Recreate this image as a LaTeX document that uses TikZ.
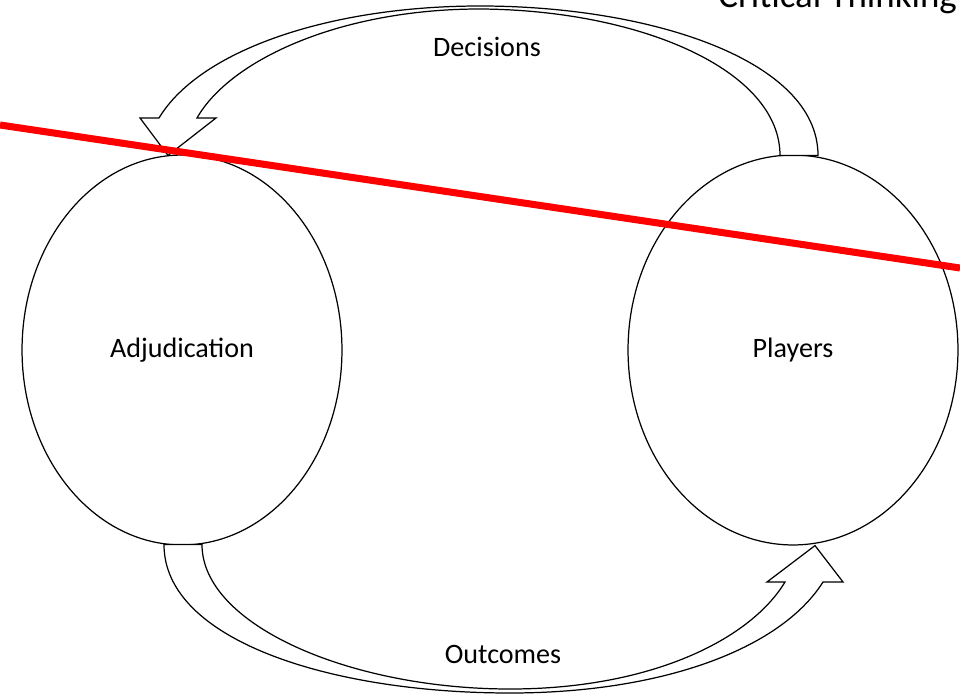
\documentclass[tikz,border=0pt]{standalone}
\usepackage{fontspec}
\setmainfont{Carlito}
\usetikzlibrary{shapes.geometric,calc}
\begin{document}
\begin{tikzpicture}[x=0.02cm,y=-0.02cm,
    stage/.style={draw,ellipse,line width=0.7pt,minimum width=6.4cm,
      minimum height=7.8cm,inner sep=0pt,font=\fontsize{16}{19}\selectfont},
    bigarrow/.style={draw,fill=white,line width=0.7pt,line join=miter},
    flow/.style={font=\fontsize{16}{19}\selectfont},
    strike/.style={draw=red,line width=4pt}]
\useasboundingbox (0,0) rectangle (960,699);

\node[stage] (adj) at (182,350) {Adjudication};
\node[stage,minimum width=6.6cm] (pla) at (793,350) {Players};

% decisions go back to adjudication
\draw[bigarrow] ($(pla.north)+(25,1)$) .. controls (818,60) and (650,6) .. (480,6)
  .. controls (330,6) and (200,50) .. (159,118) -- (140,118) -- ($(adj.north)+(-14,1)$)
  -- (216,118) -- (197,118) .. controls (230,60) and (340,9) .. (480,9)
  .. controls (640,10) and (780,70) .. ($(pla.north)+(-13,1)$) -- cycle;

% outcomes go on to the players
\draw[bigarrow] ($(adj.south)+(-18,-1)$) .. controls (164,640) and (330,693) .. (510,693)
  .. controls (660,693) and (780,650) .. (823,582) -- (843,582) -- ($(pla.south)+(22,0)$)
  -- (767,582) -- (785,582) .. controls (750,640) and (650,689) .. (510,689)
  .. controls (350,689) and (202,625) .. ($(adj.south)+(20,-1)$) -- cycle;

\node[flow] (dec) at (487,47) {Decisions};
\node[flow] (out) at (503,654) {Outcomes};
\node[anchor=base west,inner sep=0pt,font=\fontsize{21}{25}\selectfont] (crit) at (718,8) {Critical Thinking};

\coordinate (cutA) at (0,125);
\coordinate (cutB) at (960,268);
\draw[strike] (cutA) -- (cutB);
\end{tikzpicture}
\end{document}
